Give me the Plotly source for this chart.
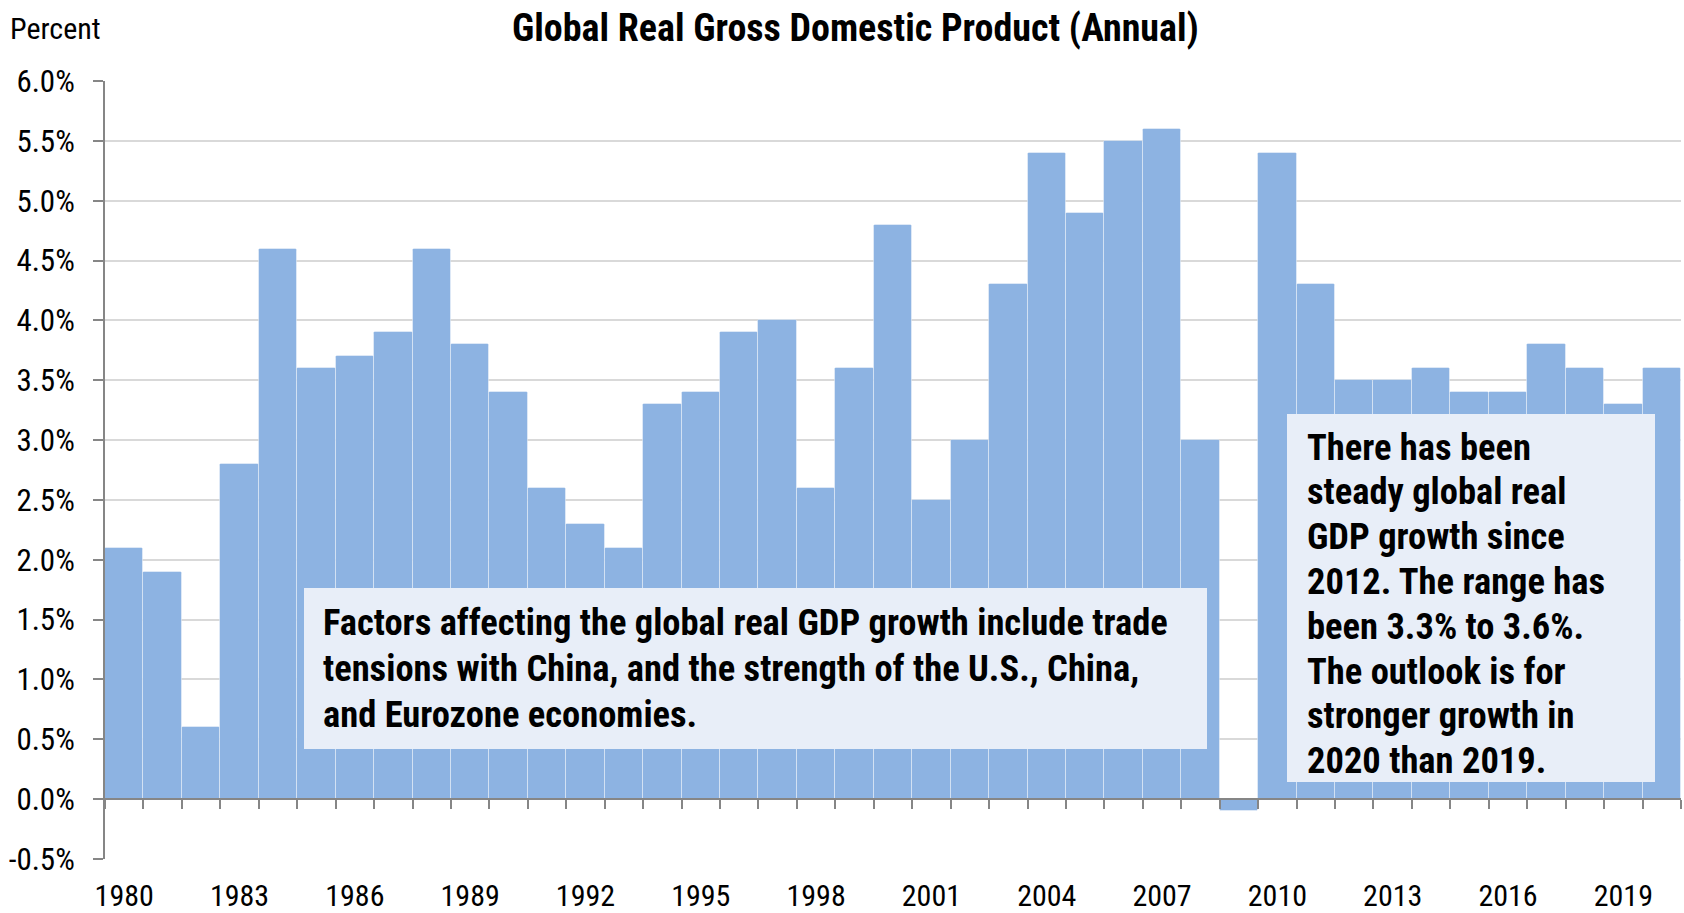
import plotly.graph_objects as go

years = [str(y) for y in range(1980, 2021)]
gdp_growth = [2.1, 1.9, 0.6, 2.8, 4.6, 3.6, 3.7, 3.9, 4.6, 3.8,
              3.4, 2.6, 2.3, 2.1, 3.3, 3.4, 3.9, 4.0, 2.6, 3.6,
              4.8, 2.5, 3.0, 4.3, 5.4, 4.9, 5.5, 5.6, 3.0, -0.1,
              5.4, 4.3, 3.5, 3.5, 3.6, 3.4, 3.4, 3.8, 3.6, 3.3, 3.6]
x_tick_labels = [str(y) for y in range(1980, 2021, 3)]
y_ticks = [-0.5 + 0.5 * i for i in range(14)]
y_tick_text = [f"{v:.1f}%" for v in y_ticks]

title_text = "Global Real Gross Domestic Product (Annual)"
note_left_lines = ["Factors affecting the global real GDP growth include trade",
                   "tensions with China, and the strength of the U.S., China,",
                   "and Eurozone economies."]
note_right_lines = ["There has been", "steady global real", "GDP growth since",
                    "2012. The range has", "been 3.3% to 3.6%.", "The outlook is for",
                    "stronger growth in", "2020 than 2019."]

FONT = "Roboto Condensed, Liberation Sans Narrow, Arial Narrow, sans-serif"
BAR = "#8DB3E2"
BOX = "#E8EEF8"
AXIS = "#868686"
GRID = "#D9D9D9"

W, H = 1684, 913
ML, MR, MT, MB = 105, 3, 81, 54
pw, ph = W - ML - MR, H - MT - MB


def px_x(p):
    return (p - ML) / pw


def px_y(p):
    return (H - MB - p) / ph


fig = go.Figure()
fig.add_trace(go.Bar(
    x=years, y=gdp_growth,
    marker=dict(color=BAR, line=dict(color="rgba(255,255,255,0.4)", width=1), cornerradius=2),
    showlegend=False, hoverinfo="x+y",
))
# helper trace to carry the zero-crossing category axis with boundary ticks
fig.add_trace(go.Scatter(
    x=years, y=[0] * len(years), xaxis="x2", mode="markers",
    marker=dict(opacity=0), showlegend=False, hoverinfo="skip",
))

ymin, ymax = -0.5, 6.0

annotations = [
    dict(text="<b>" + title_text + "</b>", xref="paper", yref="paper",
         x=px_x(855), y=px_y(28), xanchor="center", yanchor="middle",
         showarrow=False, font=dict(size=38)),
    dict(text="Percent", xref="paper", yref="paper",
         x=px_x(8), y=px_y(28), xanchor="left", yanchor="middle",
         showarrow=False, font=dict(size=30)),
]
for i, line in enumerate(note_left_lines):
    annotations.append(dict(
        text="<b>" + line + "</b>", xref="paper", yref="paper",
        x=px_x(321), y=px_y(622 + i * 46), xanchor="left", yanchor="middle",
        align="left", showarrow=False, font=dict(size=36.5)))
for i, line in enumerate(note_right_lines):
    annotations.append(dict(
        text="<b>" + line + "</b>", xref="paper", yref="paper",
        x=px_x(1305), y=px_y(447 + i * 44.8), xanchor="left", yanchor="middle",
        align="left", showarrow=False, font=dict(size=36.5)))

fig.update_layout(
    width=W, height=H,
    margin=dict(l=ML, r=MR, t=MT, b=MB, autoexpand=False),
    paper_bgcolor="white", plot_bgcolor="white",
    bargap=0,
    font=dict(family=FONT, color="black", size=30),
    xaxis=dict(
        type="category", range=[-0.5, len(years) - 0.5],
        tickmode="array", tickvals=x_tick_labels, ticktext=x_tick_labels,
        ticks="", showline=False, showgrid=False, zeroline=False,
        tickfont=dict(size=30), ticklabelstandoff=16,
    ),
    xaxis2=dict(
        type="category", overlaying="x", matches="x", anchor="free",
        position=(0 - ymin) / (ymax - ymin),
        showline=True, linecolor=AXIS, linewidth=2,
        ticks="outside", tickson="boundaries", ticklen=9, tickwidth=2, tickcolor=AXIS,
        showticklabels=False, showgrid=False, zeroline=False,
    ),
    yaxis=dict(
        range=[ymin, ymax], tickmode="array", tickvals=y_ticks, ticktext=y_tick_text,
        showline=True, linecolor=AXIS, linewidth=2,
        ticks="outside", ticklen=10, tickwidth=2, tickcolor=AXIS,
        showgrid=True, gridcolor=GRID, gridwidth=2, zeroline=False,
        tickfont=dict(size=31), ticklabelstandoff=12,
    ),
    shapes=[
        dict(type="rect", xref="paper", yref="paper",
             x0=px_x(304), x1=px_x(1207), y0=px_y(749), y1=px_y(588),
             fillcolor=BOX, line=dict(width=0), layer="above"),
        dict(type="rect", xref="paper", yref="paper",
             x0=px_x(1287), x1=px_x(1655), y0=px_y(782), y1=px_y(414),
             fillcolor=BOX, line=dict(width=0), layer="above"),
    ],
    annotations=annotations,
)

fig.write_html("out.html", config={"displayModeBar": False},
               post_script="document.body.style.margin='0';document.body.style.overflow='hidden';")
